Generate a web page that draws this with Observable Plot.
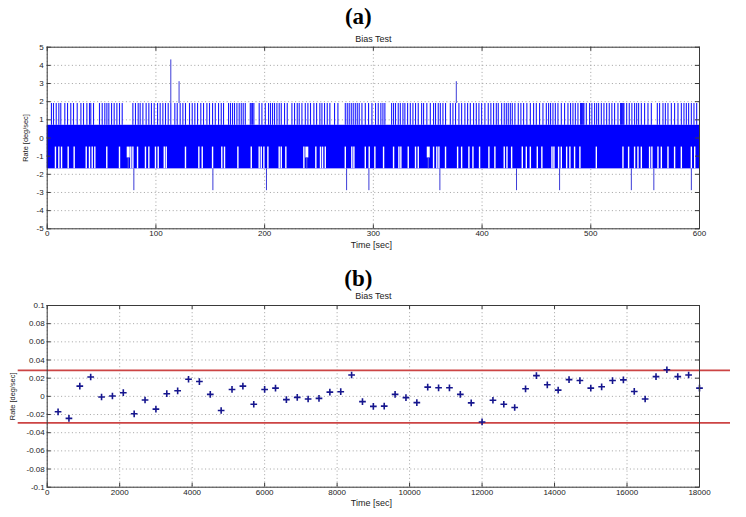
<!DOCTYPE html>
<html><head><meta charset="utf-8">
<script src="https://cdn.jsdelivr.net/npm/d3@7"></script>
<script src="https://cdn.jsdelivr.net/npm/@observablehq/plot@0.6"></script>
<style>body{margin:0;background:#fff} svg{display:block}</style>
</head><body><div id="chart"></div>
<script>
// ---------- Panel (a) data: quantized rate signal, 600 s ----------
const aXTicks = [0, 100, 200, 300, 400, 500, 600];
const aYTicks = [-5, -4, -3, -2, -1, 0, 1, 2, 3, 4, 5];
const aSpan = [0, 600];
// quantization levels seen in the trace [deg/sec]
const aLevels = [-1.7, -0.5, 0.7, 1.9];
// times where the trace jumps up to the 1.9 level
const aUpTimes = [3.9, 5.8, 8.3, 10.7, 12.5, 16.2, 18.7, 21.7, 24.2, 27.6, 31, 33.4, 36.5, 38.9, 40.1, 42.6, 48.1, 50.6, 53, 54.9, 56.7, 59.2, 61.6, 64.1, 66.5, 69, 78.8, 81.2, 83.7, 85.5, 88, 91, 93.5, 95.9, 98.4, 101.5, 103.9, 106.4, 108.8, 111.3, 113.7, 117.4, 119.6, 122.3, 124.8, 127.2, 130.9, 133.4, 135.8, 138.3, 141.3, 143.8, 146.9, 149.3,
  152.1, 154.6, 157.6, 160.1, 162.2, 166.8, 168.6, 170.5, 172.3, 174.5, 176.6, 178.5, 180.3, 182.2, 186.8, 187.7, 188.9, 190.1, 195, 197.5, 200.6, 203.6, 205.4, 207.3, 209.1, 211.3, 213.4, 215.3, 218.3, 220.8, 225.1, 227.5, 230, 231.8, 234.3, 237.4, 239.8, 242.2, 245.3, 247.8, 250.8, 252.7, 255.1, 257.6, 260, 264.3, 267.4, 274.2, 276, 277.8, 279.7, 281.5, 283.4, 285.2, 287, 289.5, 292.6, 295.6, 298.7,
  302, 304.5, 306.9, 308.8, 310.6, 316.8, 318.6, 320.4, 322.9, 324.8, 327.2, 329, 331.5, 334, 336.4, 338.8, 341.3, 344.4, 346.2, 349.2, 352.4, 355.4, 357.2, 359.7, 361.6, 364, 366.4, 370.8, 373.2, 375.6, 378.7, 381.2, 384.2, 386.7, 389.2, 392.2, 394.7, 397.1, 399.6, 402.6, 405.7, 408.1, 410.6, 413.1, 414.9, 418, 420.4, 422.3, 424.1, 426, 427.8, 430.2, 433.3, 435.7, 438.2, 441.2, 444.4, 447.4,
  449.9, 452.9, 456, 459.1, 461.2, 463, 465.2, 467.4, 469.8, 472.9, 475.9, 479, 481.4, 483.6, 485.8, 488.2, 490.6, 491.4, 492.2, 493, 493.7, 495.9, 498.9, 501, 503.5, 505.4, 507.2, 509.7, 512.1, 514.6, 517, 519.4, 521.9, 525, 527.4, 528.2, 529, 529.8, 530.5, 533, 535.4, 537.8, 540.3, 542.2, 544, 546.5, 549.5, 552.6, 555.7, 561.2, 563.3, 566.4, 568.6, 571, 574.1, 577.1, 580.2, 583.3, 585.7, 587.9, 590, 592.5, 594.9, 597.4];
// times where the trace does not drop to the -1.7 level (white gaps in the lower band)
const aLowGaps = [7.6, 10.7, 13.2, 19.3, 24.8, 35.9, 38.9, 41.4, 43.8, 54.8, 66.5, 76.9, 78.8, 83.1, 90.4, 93.5, 99.6, 102.1, 107.7, 109.5, 127.2, 139.5, 142.6, 152.1, 160.6, 163.1, 175.4, 187.7, 195, 196.9, 199.3, 203, 213.4, 215.3, 219.5, 236.1, 247.1, 251.4, 253.3, 255.8, 274.2, 280.2, 282.1, 292.6, 296.2, 301.4, 309.4, 318.6, 323.5, 325.3, 332.1, 338.8, 341.3, 355.4, 358.4, 360.3, 366.4, 377.5, 381.2, 387.9, 391.6, 397.7, 406.3, 411.8, 420.4, 422.9, 427.2, 437, 440.7, 444.4, 450.8, 455, 464.3, 466.1, 470.4, 472.9, 477.8, 480.8, 485.1, 490, 505.1, 529.6, 534.8, 540.3, 543.4, 546.5, 554.1, 556.2, 561.8, 564.9, 571, 577.1, 583.3, 592.5, 595.6];
// partial dips that only reach about -1.1
const aPartialTimes = [74.5, 238.8, 350.5];
const aPartialValue = -1.1;
// isolated spikes
const aSpikeTimes = [79.7, 113.7, 121.3, 152.4, 201.7, 275.4, 295.9, 361.2, 376.3, 431.7, 471.3, 537.3, 558, 592.5];
const aSpikePeaks = [-2.9, 4.3, 3.1, -2.9, -2.9, -2.9, -2.9, -2.9, 3.1, -2.9, -2.9, -2.9, -2.9, -2.9];

// ---------- Panel (b) data: 300 s averaged bias ----------
const bXTicks = [0, 2000, 4000, 6000, 8000, 10000, 12000, 14000, 16000, 18000];
const bYTicks = [-0.1, -0.08, -0.06, -0.04, -0.02, 0, 0.02, 0.04, 0.06, 0.08, 0.1];
const bTimes = [300, 600, 900, 1200, 1500, 1800, 2100, 2400, 2700, 3000, 3300, 3600, 3900, 4200, 4500, 4800, 5100, 5400, 5700, 6000,
  6300, 6600, 6900, 7200, 7500, 7800, 8100, 8400, 8700, 9000, 9300, 9600, 9900, 10200, 10500, 10800, 11100, 11400, 11700, 12000,
  12300, 12600, 12900, 13200, 13500, 13800, 14100, 14400, 14700, 15000, 15300, 15600, 15900, 16200, 16500, 16800, 17100, 17400, 17700, 18000];
const bRates = [-0.0170, -0.0242, 0.0112, 0.0213, -0.0007, 0.0004, 0.0040, -0.0192, -0.0040, -0.0141,
  0.0029, 0.0061, 0.0188, 0.0163, 0.0022, -0.0156, 0.0076, 0.0112, -0.0087, 0.0076,
  0.0090, -0.0036, -0.0011, -0.0029, -0.0022, 0.0047, 0.0051, 0.0235, -0.0058, -0.0110,
  -0.0108, 0.0022, -0.0014, -0.0069, 0.0101, 0.0094, 0.0094, 0.0022, -0.0072, -0.0282,
  -0.0043, -0.0087, -0.0123, 0.0083, 0.0228, 0.0127, 0.0069, 0.0184, 0.0174, 0.0090,
  0.0105, 0.0174, 0.0181, 0.0054, -0.0029, 0.0217, 0.0293, 0.0217, 0.0235, 0.0090];
const bLimits = [0.0285, -0.0292];

const panelTitle = "Bias Test";
const xLabel = "Time [sec]";
const yLabel = "Rate [deg/sec]";

// ---------- layout / styles ----------
const font = "'Liberation Sans', Arial, Helvetica, sans-serif";
const W = 746, ML = 46.7, MR = 47;
const frameW = W - ML - MR;
const grid = {stroke: "#8c8c8c", strokeDasharray: "1,2.6", strokeWidth: 0.8, strokeOpacity: 1};
const frameColor = "#3a3a3a";
const fmt = d => String(+d.toFixed(2));
const blue = "#0000ff";

function innerTicks(xt, yt, fh) {
  const t = 4;
  return [
    Plot.tickX(xt, {x: d => d, insetTop: fh - t, stroke: frameColor}),
    Plot.tickX(xt, {x: d => d, insetBottom: fh - t, stroke: frameColor}),
    Plot.tickY(yt, {y: d => d, insetRight: frameW - t, stroke: frameColor}),
    Plot.tickY(yt, {y: d => d, insetLeft: frameW - t, stroke: frameColor})
  ];
}

function labels(tag, tagDy, titleDy, yDx) {
  return [
    Plot.text([tag], {text: d => d, frameAnchor: "top", dx: -15, dy: tagDy, fontFamily: "'Liberation Serif', 'Times New Roman', serif", fontWeight: "bold", fontSize: 23, fill: "#000", lineAnchor: "middle"}),
    Plot.text([panelTitle], {text: d => d, frameAnchor: "top", dy: titleDy, fontSize: 9, fill: "#222", lineAnchor: "middle"}),
    Plot.text([xLabel], {text: d => d, frameAnchor: "bottom", dx: -2, dy: 16, fontSize: 9, fill: "#222", lineAnchor: "middle"}),
    Plot.text([yLabel], {text: d => d, frameAnchor: "left", dx: yDx, rotate: -90, textAnchor: "middle", lineAnchor: "middle", fontSize: 7.4, fill: "#222"})
  ];
}

// ---------- Panel (a) ----------
const aH = 258, aMT = 46.7, aMB = 29.7, aFH = aH - aMT - aMB;
const aBands = [{lo: aLevels[0], hi: aLevels[2]}];
const plotA = Plot.plot({
  width: W, height: aH, marginLeft: ML, marginRight: MR, marginTop: aMT, marginBottom: aMB,
  style: {fontFamily: font, background: "#fff", color: "#222"},
  x: {domain: [0, 600], axis: null},
  y: {domain: [-5, 5], axis: null},
  marks: [
    Plot.gridX(aXTicks, grid),
    Plot.gridY(aYTicks, grid),
    Plot.ruleX(aUpTimes, {x: d => d, y1: aLevels[2], y2: aLevels[3], stroke: blue, strokeWidth: 1.1, strokeOpacity: 0.9}),
    Plot.rect(aBands, {x1: () => aSpan[0], x2: () => aSpan[1], y1: "lo", y2: "hi", fill: blue}),
    Plot.ruleX(aLowGaps, {x: d => d, y1: aLevels[0], y2: aLevels[1], stroke: "#fff", strokeWidth: 1.4}),
    Plot.ruleX(aPartialTimes, {x: d => d, y1: aPartialValue, y2: aLevels[1], stroke: "#fff", strokeWidth: 3}),
    Plot.ruleX(aPartialTimes, {x: d => d, y1: aLevels[0], y2: aPartialValue, stroke: "#6a6ae0", strokeWidth: 1}),
    Plot.ruleX(aSpikeTimes, {x: d => d, y1: (d, i) => aSpikePeaks[i] > 0 ? aLevels[3] : aLevels[0], y2: (d, i) => aSpikePeaks[i], stroke: "#3c3cd8", strokeWidth: 1}),
    Plot.frame({stroke: frameColor}),
    ...innerTicks(aXTicks, aYTicks, aFH),
    Plot.axisX(aXTicks, {tickSize: 0, tickPadding: 2, fontSize: 8, tickFormat: fmt, label: null}),
    Plot.axisY(aYTicks, {tickSize: 0, tickPadding: 3.5, fontSize: 8, tickFormat: fmt, label: null}),
    ...labels("(a)", -30.7, -8.4, -21.2)
  ]
});

// ---------- Panel (b) ----------
const bH = 259, bMT = 47, bMB = 30.3, bFH = bH - bMT - bMB;
const plotB = Plot.plot({
  width: W, height: bH, marginLeft: ML, marginRight: MR, marginTop: bMT, marginBottom: bMB,
  style: {fontFamily: font, background: "#fff", color: "#222"},
  x: {domain: [0, 18000], axis: null},
  y: {domain: [-0.1, 0.1], axis: null},
  marks: [
    Plot.gridX(bXTicks, grid),
    Plot.gridY(bYTicks, grid),
    Plot.ruleY(bLimits, {y: d => d, stroke: "#cc4444", strokeWidth: 1.8, insetLeft: -29, insetRight: -31}),
    Plot.dot(bTimes, {x: d => d, y: (d, i) => bRates[i], symbol: "plus", r: 2.3, stroke: "#16168e", strokeWidth: 1.6}),
    Plot.frame({stroke: frameColor}),
    ...innerTicks(bXTicks, bYTicks, bFH),
    Plot.axisX(bXTicks, {tickSize: 0, tickPadding: 2, fontSize: 8, tickFormat: fmt, label: null}),
    Plot.axisY(bYTicks, {tickSize: 0, tickPadding: 2.5, fontSize: 8, tickFormat: fmt, label: null}),
    ...labels("(b)", -26.5, -9, -35)
  ]
});

const host = document.getElementById("chart");
host.append(plotA, plotB);
</script>
</body></html>
